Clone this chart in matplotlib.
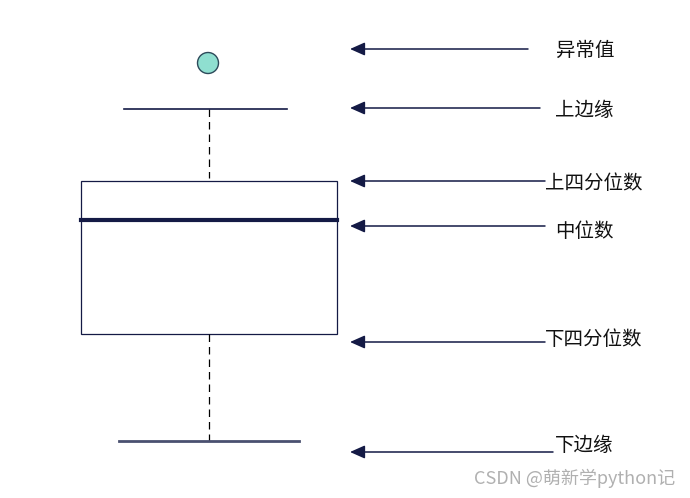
import matplotlib
matplotlib.use("Agg")
import matplotlib.pyplot as plt
from matplotlib.patches import Rectangle, Circle

plt.rcParams['font.family'] = ['Noto Sans CJK SC', 'DejaVu Sans']

# box-plot anatomy, in picture units (y grows downwards)
outlier = (208, 63)
upper_cap = 109
q3 = 181
median = 220
q1 = 334
lower_cap = 441
box_left, box_right = 81, 337
center_x = 209
upper_cap_span = (124, 287)
lower_cap_span = (119, 299)

# annotations: label, arrow y, arrow tail x, text x, text y
labels = ["异常值", "上边缘", "上四分位数", "中位数", "下四分位数", "下边缘"]
arrow_y = [49, 108, 181, 226, 342, 452]
arrow_tail = [528, 540, 545, 545, 545, 553]
text_x = [556, 555, 545, 555, 545, 555]
text_y = [50, 110, 183, 231, 339, 445]
arrow_head = 350

navy = "#141a45"

fig = plt.figure(figsize=(6.9, 4.98), dpi=100)
ax = fig.add_axes([0, 0, 1, 1])
ax.set_xlim(0, 690)
ax.set_ylim(498, 0)
ax.axis("off")

# box
ax.add_patch(Rectangle((box_left, q3), box_right - box_left, q1 - q3,
                       fill=False, edgecolor=navy, linewidth=0.9))
ax.plot([box_left, box_right], [median, median], color=navy, linewidth=3)

# whiskers
ax.plot([center_x, center_x], [upper_cap, q3 - 3], color="black",
        linewidth=0.9, linestyle=(0, (6, 4)))
ax.plot([center_x, center_x], [q1, lower_cap], color="black",
        linewidth=0.9, linestyle=(0, (6, 4)))
ax.plot(upper_cap_span, [upper_cap, upper_cap], color=navy, linewidth=1.2)
ax.plot(lower_cap_span, [lower_cap, lower_cap], color="#4a5070", linewidth=2)

# outlier
ax.add_patch(Circle(outlier, 10.5, facecolor="#8fdfd0", edgecolor="#2d4a5a",
                    linewidth=1))

# arrows + labels
for lab, ay, tail, tx, ty in zip(labels, arrow_y, arrow_tail, text_x, text_y):
    ax.annotate("", xy=(arrow_head, ay), xytext=(tail, ay),
                arrowprops=dict(arrowstyle="-|>,head_length=0.9,head_width=0.4",
                                color=navy, linewidth=1.1, shrinkA=0, shrinkB=0))
    ax.text(tx, ty, lab, fontsize=14, ha="left", va="center", color="#111111",
            fontweight="light")

ax.text(675, 478, "CSDN @萌新学python记", fontsize=13, ha="right", va="center",
        color="#b0b0b0", fontweight="light")

fig.savefig("out.png", dpi=100)
